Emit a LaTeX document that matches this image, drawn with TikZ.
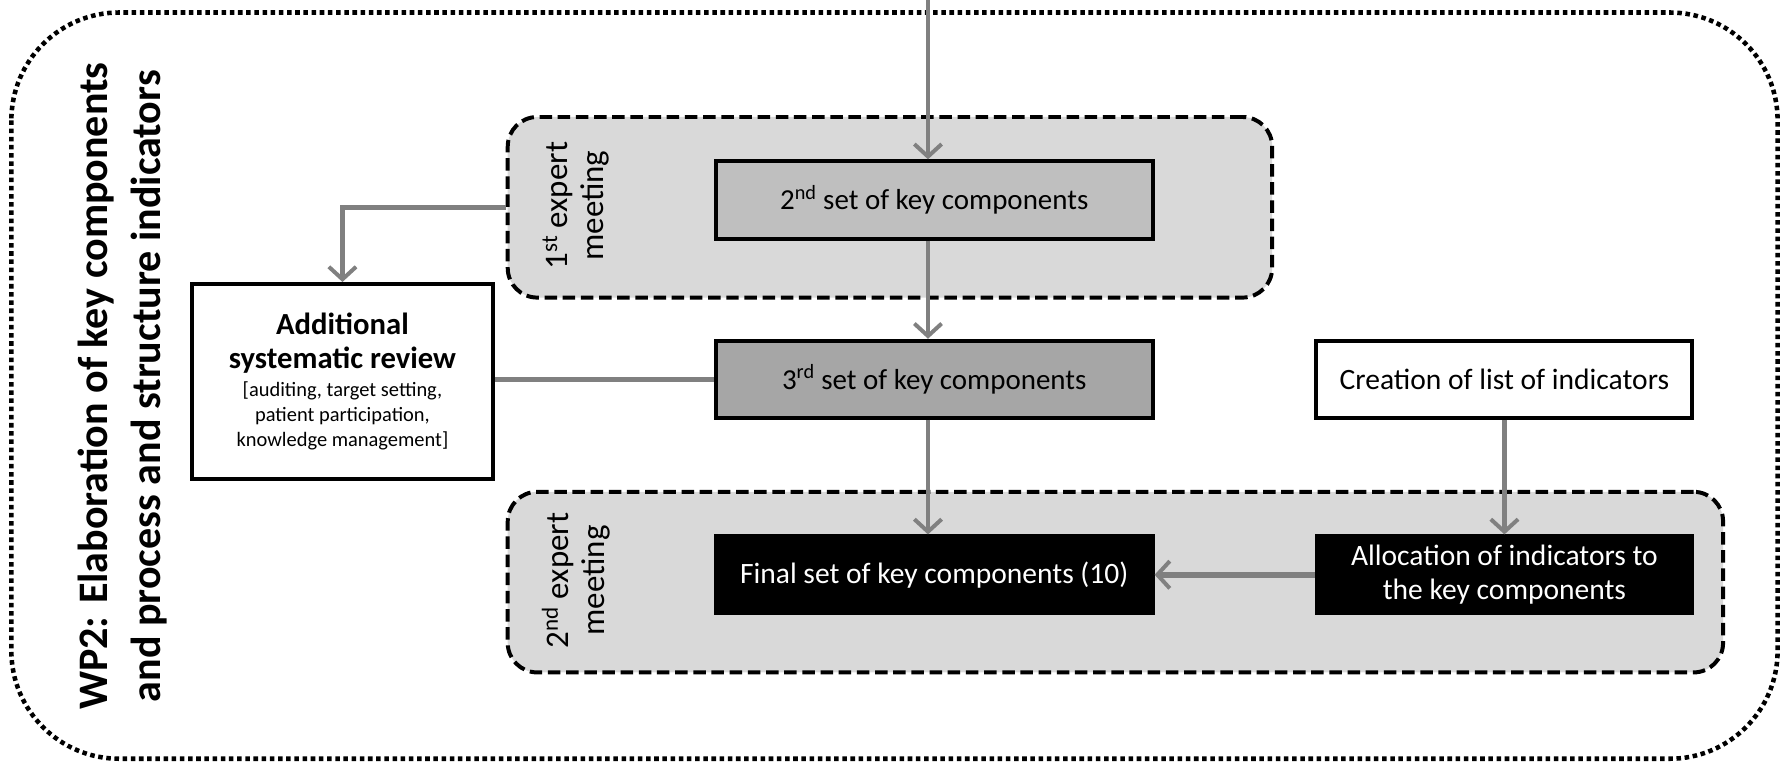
\documentclass[tikz,border=0pt]{standalone}
\usepackage{fontspec}
\setmainfont{Carlito}
\usetikzlibrary{arrows.meta}
\definecolor{conncol}{HTML}{808080}
\definecolor{meetfill}{HTML}{D9D9D9}
\definecolor{setA}{HTML}{BFBFBF}
\definecolor{setB}{HTML}{A6A6A6}
\tikzset{
  outerbox/.style={draw=black, line width=4pt, dash pattern=on 4pt off 3.2pt, rounded corners=95pt},
  meetbox/.style={draw=black, fill=meetfill, line width=3.5pt, dash pattern=on 11pt off 5pt, rounded corners=26pt, inner sep=0pt},
  stepbox/.style={draw=black, line width=3.5pt, inner sep=2pt, align=center, font=\fontsize{25.5}{30}\selectfont},
  darkbox/.style={draw=black, fill=black, text=white, line width=1pt, inner sep=2pt, align=center, font=\fontsize{26}{30}\selectfont},
  conn/.style={draw=conncol, line width=4pt},
  arr/.style={conn, -{Straight Barb[length=11pt,width=24pt,line width=3.5pt]}},
  meetlabel/.style={rotate=90, align=center, font=\fontsize{29}{32}\selectfont},
}
\begin{document}
\begin{tikzpicture}[x=1pt,y=-1pt]
\useasboundingbox (0,0) rectangle (1568,679);
\draw[outerbox] (10,11) rectangle (1565,668);

% meeting groups
\node[meetbox, minimum width=673pt, minimum height=159pt] (meet1) at (783.5,182.5) {};
\node[meetbox, minimum width=1070pt, minimum height=159pt] (meet2) at (982,512.5) {};
\node[meetlabel] (meet1lab) at (507,181) {1\textsuperscript{st} expert\\meeting};
\node[meetlabel] (meet2lab) at (507,511) {2\textsuperscript{nd} expert\\meeting};

% title
\node[rotate=90, align=center, font=\bfseries\fontsize{37}{47}\selectfont] (title) at (108,340)
  {WP2: Elaboration of key components\\and process and structure indicators};

% boxes
\node[stepbox, fill=white, minimum width=265pt, minimum height=172pt, font=\fontsize{18}{22}\selectfont] (review) at (301.5,336)
  {{\bfseries\fontsize{27}{31}\selectfont Additional}\\[8pt]{\bfseries\fontsize{27}{31}\selectfont systematic review}\\[3pt]
   [auditing, target setting,\\patient participation,\\knowledge management]};
\node[stepbox, fill=setA, minimum width=385pt, minimum height=68pt] (n2) at (822.5,176) {2\textsuperscript{nd} set of key components};
\node[stepbox, fill=setB, minimum width=385pt, minimum height=68pt] (n3) at (822.5,334) {3\textsuperscript{rd} set of key components};
\node[stepbox, fill=white, minimum width=331pt, minimum height=68pt, font=\fontsize{26}{30}\selectfont] (creation) at (1324.5,334) {Creation of list of indicators};
\node[darkbox, minimum width=387pt, minimum height=70pt] (final) at (822.5,506) {Final set of key components (10)};
\node[darkbox, minimum width=333pt, minimum height=70pt] (alloc) at (1324.5,506) {Allocation of indicators to\\the key components};

% connectors
\coordinate (top) at (817,0);
\draw[arr] (top) -- (top |- n2.north);
\draw[arr] (n2.south -| top) -- (n3.north -| top);
\draw[arr] (n3.south -| top) -- (final.north -| top);
\draw[arr] (meet1.west) -| (review.north);
\draw[conn] (review.east |- n3.west) -- (n3.west);
\draw[arr] (creation.south) -- (alloc.north);
\draw[arr, line width=5pt] (alloc.west) -- (final.east);
\end{tikzpicture}
\end{document}
